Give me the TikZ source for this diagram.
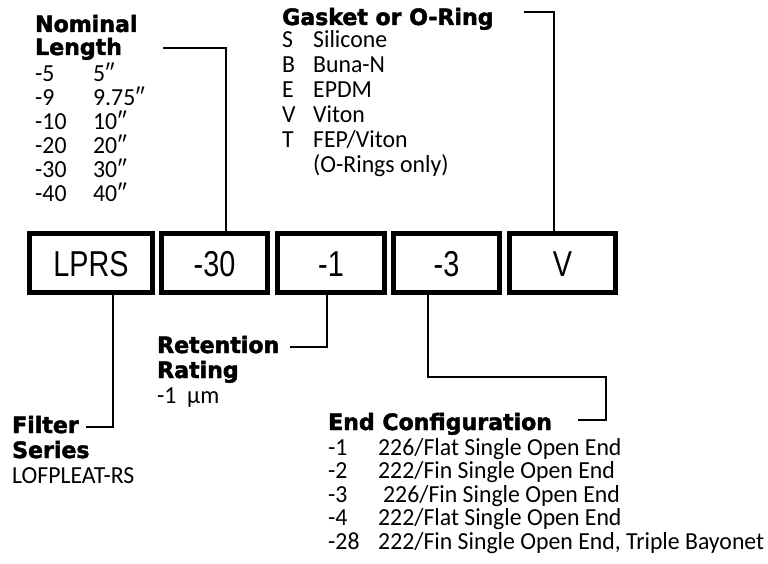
\documentclass[tikz,border=0pt]{standalone}
\usepackage{fontspec}
\setmainfont{Liberation Sans}
\newfontfamily\headfont[FakeStretch=0.98,FakeBold=2]{DejaVu Sans}
\newfontfamily\bodyfont[FakeStretch=0.97]{Carlito}
\newfontfamily\boxfont[FakeStretch=0.8]{Liberation Sans}
\usetikzlibrary{calc}
\newcommand\tworow[3]{\makebox[#1][l]{#2}#3}
\begin{document}
\begin{tikzpicture}[x=1pt,y=-1pt,
  head/.style={anchor=base west, inner sep=0pt, font=\headfont\bfseries\fontsize{22.5}{27}\selectfont},
  body/.style={anchor=base west, inner sep=0pt, font=\bodyfont\fontsize{24.5}{28}\selectfont},
  code/.style={draw, line width=5pt, inner sep=0pt, minimum height=59pt,
    font=\boxfont\fontsize{36}{40}\selectfont, text height=26pt, text depth=0pt},
  link/.style={line width=2pt}]
\useasboundingbox (0,0) rectangle (768,564);
% code boxes
\node[code, minimum width=123pt] (blprs) at (91,263) {LPRS};
\node[code, minimum width=106pt] (b30) at (214.5,263) {-30};
\node[code, minimum width=107pt] (b1) at (331,263) {-1};
\node[code, minimum width=106pt] (b3) at (446.5,263) {-3};
\node[code, minimum width=106pt] (bv) at (562.5,263) {V};
% Nominal length
\node[head] (nom1) at (35,32) {Nominal};
\node[head] (nom2) at (35,55) {Length};
\node[body] (n5) at (35,82) {\tworow{58pt}{-5}{5″}};
\node[body] (n9) at (35,106) {\tworow{58pt}{-9}{9.75″}};
\node[body] (n10) at (35,130) {\tworow{58pt}{-10}{10″}};
\node[body] (n20) at (35,154) {\tworow{58pt}{-20}{20″}};
\node[body] (n30) at (35,178) {\tworow{58pt}{-30}{30″}};
\node[body] (n40) at (35,202) {\tworow{58pt}{-40}{40″}};
\coordinate (nomc) at (163,48);
\draw[link] (nomc) -| ($(b30.north)+(11.5,0)$);
% Gasket
\node[head] (gas) at (282,25) {Gasket or O-Ring};
\node[body] (gs) at (282,48) {\tworow{31pt}{S}{Silicone}};
\node[body] (gb) at (282,73) {\tworow{31pt}{B}{Buna-N}};
\node[body] (ge) at (282,98) {\tworow{31pt}{E}{EPDM}};
\node[body] (gv) at (282,123) {\tworow{31pt}{V}{Viton}};
\node[body] (gt) at (282,148) {\tworow{31pt}{T}{FEP/Viton}};
\node[body] (go) at (313,173) {(O-Rings only)};
\coordinate (gasc) at (524,12);
\draw[link] (gasc) -| ($(bv.north)+(-8.5,0)$);
% Retention
\node[head] (ret1) at (157,353) {Retention};
\node[head] (ret2) at (157,378) {Rating};
\node[body] (ret3) at (157,403) {\tworow{30pt}{-1}{µm}};
\coordinate (retc) at (290,347);
\draw[link] (retc) -| ($(b1.south)+(-4,0)$);
% Filter series
\node[head] (fil1) at (12,433) {Filter};
\node[head] (fil2) at (12,458) {Series};
\node[body] (fil3) at (12,483) {LOFPLEAT-RS};
\coordinate (filc) at (86,427);
\draw[link] (filc) -| ($(blprs.south)+(22,0)$);
% End configuration
\node[head] (end) at (328,430) {End Configuration};
\node[body] (e1) at (328,455) {\tworow{50pt}{-1}{226/Flat Single Open End}};
\node[body] (e2) at (328,478.5) {\tworow{50pt}{-2}{222/Fin Single Open End}};
\node[body] (e3) at (328,502) {\tworow{50pt}{-3}{\hspace{5pt}226/Fin Single Open End}};
\node[body] (e4) at (328,525.5) {\tworow{50pt}{-4}{222/Flat Single Open End}};
\node[body] (e28) at (328,549) {\tworow{50pt}{-28}{222/Fin Single Open End, Triple Bayonet}};
\coordinate (ecA) at (606,377);
\coordinate (ecB) at (578,420);
\draw[link] ($(b3.south)+(-18.5,0)$) |- (ecA) |- (ecB);
\end{tikzpicture}
\end{document}
